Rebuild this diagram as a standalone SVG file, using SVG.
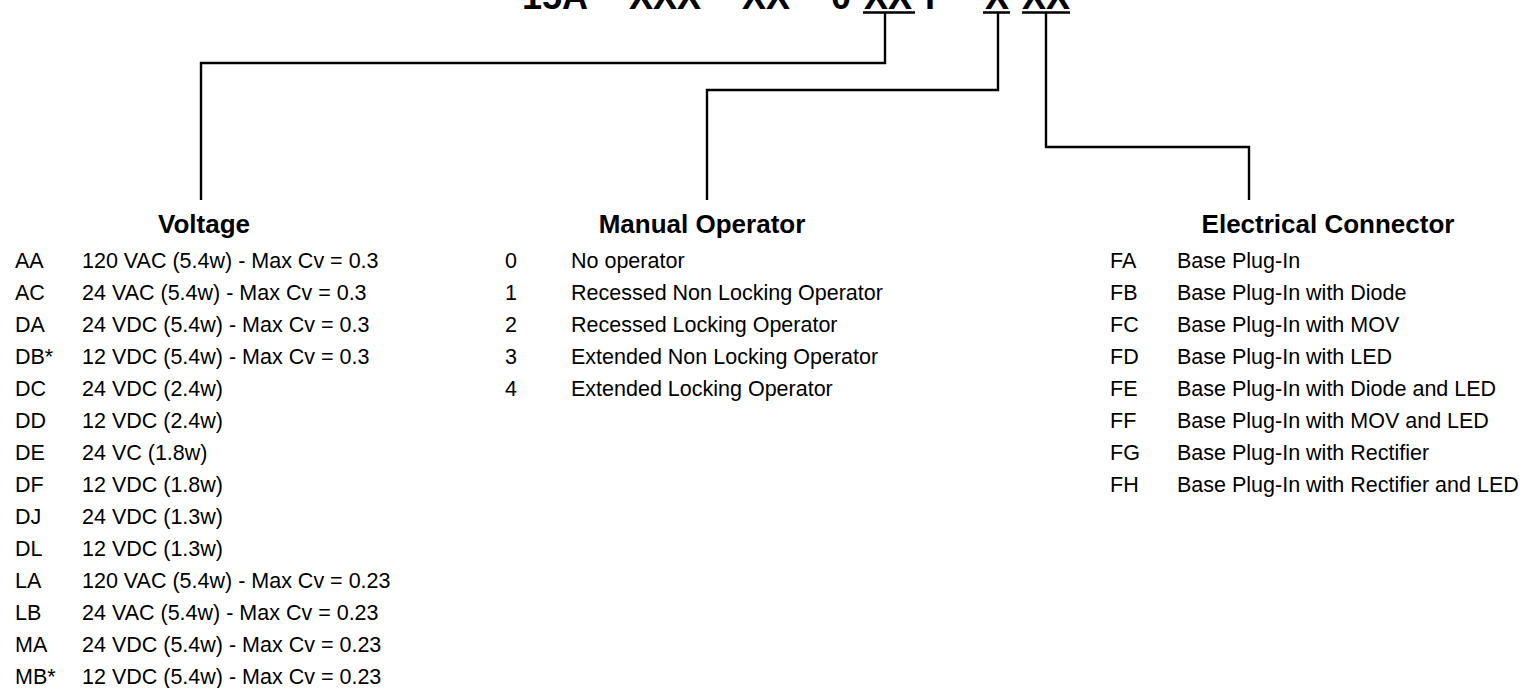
<svg xmlns="http://www.w3.org/2000/svg" width="1526" height="688" viewBox="0 0 1526 688">
<style>
.t{font-family:"Liberation Sans",Arial,sans-serif;font-size:21.5px;fill:#000}
.h{font-family:"Liberation Sans",Arial,sans-serif;font-size:26px;font-weight:bold;fill:#000;text-anchor:middle}
.ti{font-family:"Liberation Sans",Arial,sans-serif;font-size:36px;font-weight:bold;fill:#000}
.ln{fill:none;stroke:#000;stroke-width:2.4;stroke-linejoin:miter}
</style>
<rect width="1526" height="688" fill="#fff"/>
<g id="title">
<text class="ti"><tspan x="522" y="8.5">15A</tspan><tspan x="603" y="5">-</tspan><tspan x="629" y="8.5">XXX</tspan><tspan x="712" y="5">-</tspan><tspan x="742" y="8.5">XX</tspan><tspan x="805" y="5">-</tspan><tspan x="831" y="8.5">0</tspan><tspan x="864" y="8.5">XX</tspan><tspan x="925" y="8.5">F</tspan><tspan x="955" y="5">-</tspan><tspan x="985" y="8.5">X</tspan><tspan x="1022" y="8.5">XX</tspan></text>
<path class="ln" d="M863 12.5H915M983 12.5H1010M1022 12.5H1070"/>
</g>
<g id="connectors">
<path class="ln" d="M885 12V63H201V200"/>
<path class="ln" d="M998 12V90H707V200"/>
<path class="ln" d="M1046 12V147H1249V200"/>
</g>
<g id="voltage">
<text class="h" x="204" y="233">Voltage</text>
<text class="t"><tspan x="15" y="268">AA</tspan><tspan x="15" y="300">AC</tspan><tspan x="15" y="332">DA</tspan><tspan x="15" y="364">DB*</tspan><tspan x="15" y="396">DC</tspan><tspan x="15" y="428">DD</tspan><tspan x="15" y="460">DE</tspan><tspan x="15" y="492">DF</tspan><tspan x="15" y="524">DJ</tspan><tspan x="15" y="556">DL</tspan><tspan x="15" y="588">LA</tspan><tspan x="15" y="620">LB</tspan><tspan x="15" y="652">MA</tspan><tspan x="15" y="684">MB*</tspan></text>
<text class="t"><tspan x="82" y="268">120 VAC (5.4w) - Max Cv = 0.3</tspan><tspan x="82" y="300">24 VAC (5.4w) - Max Cv = 0.3</tspan><tspan x="82" y="332">24 VDC (5.4w) - Max Cv = 0.3</tspan><tspan x="82" y="364">12 VDC (5.4w) - Max Cv = 0.3</tspan><tspan x="82" y="396">24 VDC (2.4w)</tspan><tspan x="82" y="428">12 VDC (2.4w)</tspan><tspan x="82" y="460">24 VC (1.8w)</tspan><tspan x="82" y="492">12 VDC (1.8w)</tspan><tspan x="82" y="524">24 VDC (1.3w)</tspan><tspan x="82" y="556">12 VDC (1.3w)</tspan><tspan x="82" y="588">120 VAC (5.4w) - Max Cv = 0.23</tspan><tspan x="82" y="620">24 VAC (5.4w) - Max Cv = 0.23</tspan><tspan x="82" y="652">24 VDC (5.4w) - Max Cv = 0.23</tspan><tspan x="82" y="684">12 VDC (5.4w) - Max Cv = 0.23</tspan></text>
</g>
<g id="manual-operator">
<text class="h" x="702" y="233">Manual Operator</text>
<text class="t"><tspan x="505" y="268">0</tspan><tspan x="505" y="300">1</tspan><tspan x="505" y="332">2</tspan><tspan x="505" y="364">3</tspan><tspan x="505" y="396">4</tspan></text>
<text class="t"><tspan x="571" y="268">No operator</tspan><tspan x="571" y="300">Recessed Non Locking Operator</tspan><tspan x="571" y="332">Recessed Locking Operator</tspan><tspan x="571" y="364">Extended Non Locking Operator</tspan><tspan x="571" y="396">Extended Locking Operator</tspan></text>
</g>
<g id="electrical-connector">
<text class="h" x="1328" y="233">Electrical Connector</text>
<text class="t"><tspan x="1110" y="268">FA</tspan><tspan x="1110" y="300">FB</tspan><tspan x="1110" y="332">FC</tspan><tspan x="1110" y="364">FD</tspan><tspan x="1110" y="396">FE</tspan><tspan x="1110" y="428">FF</tspan><tspan x="1110" y="460">FG</tspan><tspan x="1110" y="492">FH</tspan></text>
<text class="t"><tspan x="1177" y="268">Base Plug-In</tspan><tspan x="1177" y="300">Base Plug-In with Diode</tspan><tspan x="1177" y="332">Base Plug-In with MOV</tspan><tspan x="1177" y="364">Base Plug-In with LED</tspan><tspan x="1177" y="396">Base Plug-In with Diode and LED</tspan><tspan x="1177" y="428">Base Plug-In with MOV and LED</tspan><tspan x="1177" y="460">Base Plug-In with Rectifier</tspan><tspan x="1177" y="492">Base Plug-In with Rectifier and LED</tspan></text>
</g>
</svg>
